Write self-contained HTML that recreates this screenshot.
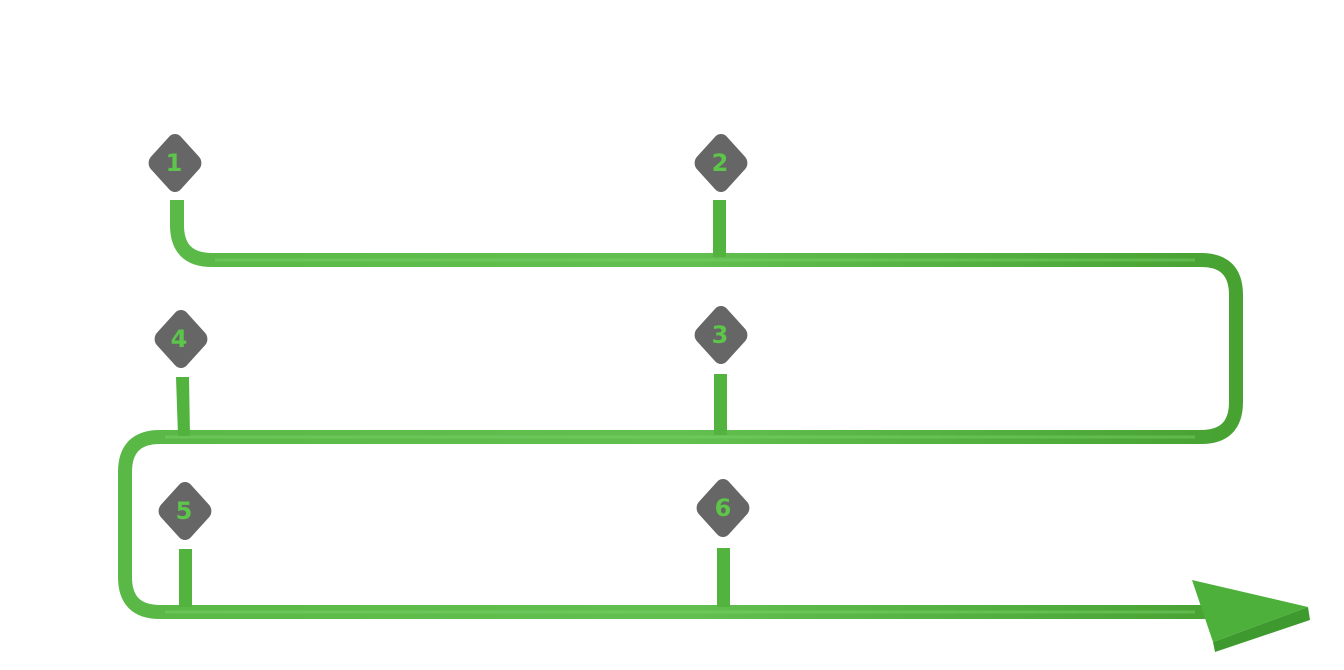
<!DOCTYPE html>
<html><head><meta charset="utf-8"><style>
html,body{margin:0;padding:0;background:#fff;}
svg{display:block;}
text{font-family:"DejaVu Sans","Liberation Sans",sans-serif;font-weight:bold;font-size:24px;fill:#5cc54a;}
</style></head><body>
<svg width="1344" height="670" viewBox="0 0 1344 670" xmlns="http://www.w3.org/2000/svg">
<defs>
<linearGradient id="g" x1="0" y1="0" x2="1" y2="0">
<stop offset="0" stop-color="#5ab846"/><stop offset="0.5" stop-color="#62c050"/><stop offset="1" stop-color="#47a232"/>
</linearGradient>
</defs>
<path d="M177 200 V225 Q177 260 212 260 H1201 Q1236 260 1236 295 V402 Q1236 437 1201 437 H160 Q125 437 125 472 V577 Q125 612 160 612 H1205" fill="none" stroke="url(#g)" stroke-width="14"/>
<path d="M215 260 H1195 M165 437 H1195 M165 612 H1195" fill="none" stroke="#7dd36a" stroke-width="3" opacity="0.45"/>
<g fill="#52b43f">
<rect x="713" y="200" width="13" height="57"/>
<polygon points="176,377 189,377 190,436 178,436"/>
<rect x="714" y="374" width="13" height="61"/>
<rect x="179" y="549" width="13" height="58"/>
<rect x="717" y="548" width="13" height="59"/>
</g>
<polygon points="1213,642 1308,607 1310,620 1215,652" fill="#3e9a2e"/>
<polygon points="1192,580 1308,607 1213,642" fill="#4cb03a"/>
<g fill="#666">
<g transform="translate(175 163) scale(1 1.1) rotate(45)"><rect x="-21" y="-21" width="42" height="42" rx="8"/></g>
<g transform="translate(721 163) scale(1 1.1) rotate(45)"><rect x="-21" y="-21" width="42" height="42" rx="8"/></g>
<g transform="translate(181 339) scale(1 1.1) rotate(45)"><rect x="-21" y="-21" width="42" height="42" rx="8"/></g>
<g transform="translate(721 335) scale(1 1.1) rotate(45)"><rect x="-21" y="-21" width="42" height="42" rx="8"/></g>
<g transform="translate(185 511) scale(1 1.1) rotate(45)"><rect x="-21" y="-21" width="42" height="42" rx="8"/></g>
<g transform="translate(723 508) scale(1 1.1) rotate(45)"><rect x="-21" y="-21" width="42" height="42" rx="8"/></g>
</g>
<g text-anchor="middle">
<text x="174" y="171">1</text>
<text x="720" y="171">2</text>
<text x="179" y="347">4</text>
<text x="720" y="343">3</text>
<text x="184" y="519">5</text>
<text x="723" y="516">6</text>
</g>
</svg>
</body></html>
